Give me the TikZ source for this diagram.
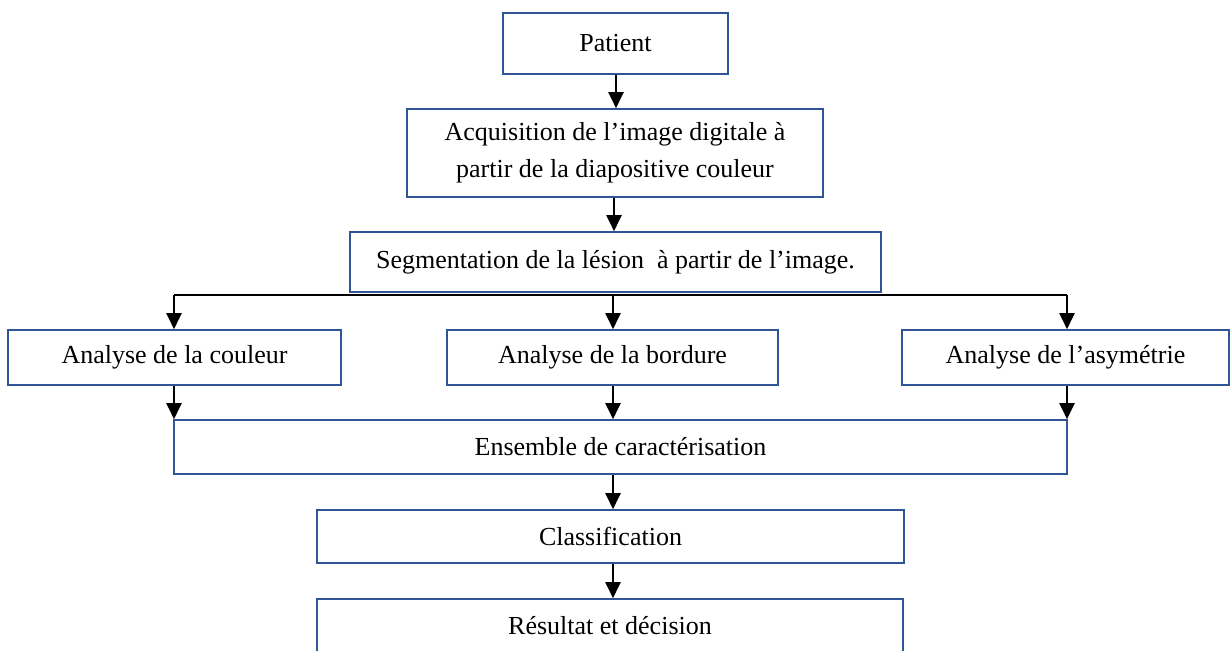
\documentclass[tikz,border=0pt]{standalone}
\usepackage{fontspec}
\setmainfont{Liberation Serif}
\usetikzlibrary{arrows.meta}
\definecolor{boxblue}{RGB}{47,85,151}
\begin{document}
\begin{tikzpicture}[x=0.5pt,y=-0.5pt,
  stepbox/.style={draw=boxblue,line width=0.8pt,fill=white,rectangle,inner sep=0pt,
    font=\fontsize{13}{18.5}\selectfont,align=center},
  arr/.style={draw=black,line width=1pt,-{Triangle[width=7.5pt,length=8pt]}},
  conn/.style={draw=black,line width=1pt}]
\useasboundingbox (0,0) rectangle (1231,650);
\clip (0,0) rectangle (1231,650);
\node[stepbox,minimum width=112.5pt,minimum height=30.5pt] (pat) at (615.5,43.5) {Patient};
\node[stepbox,minimum width=208pt,minimum height=44pt] (acq) at (615,153) {Acquisition de l’image digitale à\\partir de la diapositive couleur};
\node[stepbox,minimum width=265.5pt,minimum height=30pt] (seg) at (615.5,262) {Segmentation de la lésion~ à partir de l’image.};
\node[stepbox,minimum width=166.5pt,minimum height=27.5pt] (coul) at (174.5,357.5) {Analyse de la couleur};
\node[stepbox,minimum width=165.5pt,minimum height=27.5pt] (bord) at (612.5,357.5) {Analyse de la bordure};
\node[stepbox,minimum width=163.5pt,minimum height=27.5pt] (asym) at (1065.5,357.5) {Analyse de l’asymétrie};
\node[stepbox,minimum width=446.5pt,minimum height=27pt] (ens) at (620.5,447) {Ensemble de caractérisation};
\node[stepbox,minimum width=293.5pt,minimum height=26.5pt] (cls) at (610.5,536.5) {Classification};
\node[stepbox,minimum width=293pt,minimum height=26.5pt] (res) at (610,625.5) {Résultat et décision};
\coordinate (bl) at (174,295);
\coordinate (bm) at (613,295);
\coordinate (br) at (1067,295);
\coordinate (ct) at (616,0);
\coordinate (cs) at (614,0);
\draw[arr] (pat.south -| ct) -- (acq.north -| ct);
\draw[arr] (acq.south -| cs) -- (seg.north -| cs);
\draw[conn] (bl) -- (br);
\draw[arr] (bl) -- (coul.north -| bl);
\draw[arr] (bm) -- (bord.north -| bm);
\draw[arr] (br) -- (asym.north -| br);
\draw[arr] (coul.south -| bl) -- (ens.north -| bl);
\draw[arr] (bord.south -| bm) -- (ens.north -| bm);
\draw[arr] (asym.south -| br) -- (ens.north -| br);
\draw[arr] (ens.south -| bm) -- (cls.north -| bm);
\draw[arr] (cls.south -| bm) -- (res.north -| bm);
\end{tikzpicture}
\end{document}
